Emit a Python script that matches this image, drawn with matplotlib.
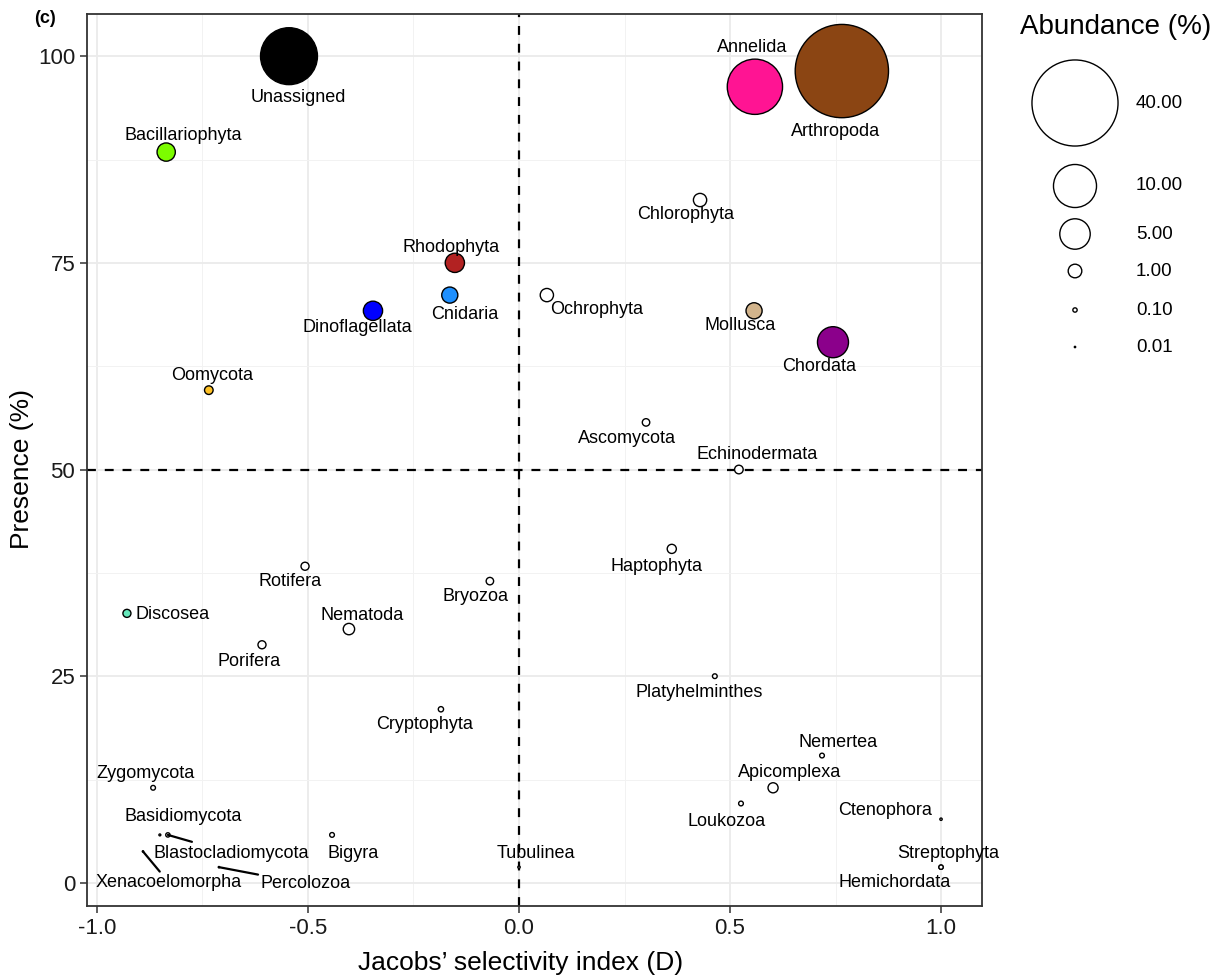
import matplotlib
matplotlib.use("Agg")
import matplotlib.pyplot as plt
from matplotlib.ticker import MultipleLocator

plt.rcParams['font.family'] = ['Liberation Sans', 'DejaVu Sans']

# data
taxa = ['Unassigned', 'Arthropoda', 'Annelida', 'Bacillariophyta', 'Chlorophyta',
        'Rhodophyta', 'Cnidaria', 'Dinoflagellata', 'Ochrophyta', 'Mollusca',
        'Chordata', 'Oomycota', 'Ascomycota', 'Echinodermata', 'Haptophyta',
        'Rotifera', 'Bryozoa', 'Discosea', 'Nematoda', 'Porifera',
        'Platyhelminthes', 'Cryptophyta', 'Nemertea', 'Zygomycota', 'Apicomplexa',
        'Loukozoa', 'Ctenophora', 'Basidiomycota', 'Blastocladiomycota', 'Bigyra',
        'Xenacoelomorpha', 'Percolozoa', 'Tubulinea', 'Streptophyta', 'Hemichordata']
jacobs_d = [-0.545, 0.765, 0.559, -0.836, 0.429,
            -0.152, -0.164, -0.346, 0.066, 0.557,
            0.744, -0.735, 0.301, 0.521, 0.362,
            -0.507, -0.069, -0.929, -0.403, -0.609,
            0.464, -0.185, 0.718, -0.867, 0.602,
            0.526, 1.0, -0.851, -0.832, -0.443,
            -0.891, -0.711, 0.0, 1.0, 1.0]
presence = [100.0, 98.2, 96.3, 88.4, 82.6,
            75.0, 71.1, 69.2, 71.1, 69.2,
            65.4, 59.6, 55.7, 50.0, 40.4,
            38.3, 36.5, 32.6, 30.7, 28.8,
            25.0, 21.0, 15.4, 11.5, 11.5,
            9.6, 7.7, 5.8, 5.8, 5.8,
            3.8, 1.9, 1.9, 1.9, 1.9]
abundance = [17.5, 47.0, 16.5, 1.8, 0.95,
             2.0, 1.4, 2.0, 0.95, 1.4,
             5.2, 0.4, 0.3, 0.4, 0.45,
             0.35, 0.3, 0.35, 0.7, 0.35,
             0.12, 0.15, 0.12, 0.12, 0.55,
             0.12, 0.03, 0.02, 0.1, 0.12,
             0.01, 0.01, 0.03, 0.1, 0.1]
colours = {'Unassigned': '#000000', 'Arthropoda': '#8B4513', 'Annelida': '#FF1493',
           'Bacillariophyta': '#7CFC00', 'Rhodophyta': '#B22222', 'Cnidaria': '#1E90FF',
           'Dinoflagellata': '#0000FF', 'Mollusca': '#D2B48C', 'Chordata': '#8B008B',
           'Oomycota': '#FFC125', 'Discosea': '#66E8BB'}

# label positions (data units) as placed by the repel step
label_x = [-0.524, 0.749, 0.552, -0.796, 0.396,
           -0.161, -0.128, -0.382, 0.185, 0.524,
           0.711, -0.727, 0.256, 0.564, 0.325,
           -0.543, -0.104, -0.820, -0.372, -0.640,
           0.427, -0.223, 0.756, -0.886, 0.642,
           0.491, 0.867, -0.796, -0.682, -0.393,
           -0.829, -0.505, 0.040, 1.017, 0.891]
label_y = [95.0, 90.9, 101.1, 90.4, 80.8,
           76.9, 68.7, 67.2, 69.3, 67.4,
           62.5, 61.4, 53.7, 51.8, 38.3,
           36.4, 34.6, 32.5, 32.4, 26.8,
           23.0, 19.1, 17.0, 13.2, 13.3,
           7.4, 8.8, 8.0, 3.6, 3.6,
           0.0, -0.1, 3.6, 3.6, 0.0]
with_segment = ['Blastocladiomycota', 'Xenacoelomorpha', 'Percolozoa']

legend_values = [40, 10, 5, 1, 0.1, 0.01]
legend_labels = ['40.00', '10.00', '5.00', '1.00', '0.10', '0.01']

SIZE = 96  # points^2 per 1 % abundance

fig = plt.figure(figsize=(12.25, 9.8), dpi=100)
ax = fig.add_axes([0.071, 0.0755, 0.7306, 0.9102])

ax.set_xlim(-1.0237, 1.097)
ax.set_ylim(-2.8, 105.1)
ax.xaxis.set_major_locator(MultipleLocator(0.5))
ax.xaxis.set_minor_locator(MultipleLocator(0.25))
ax.yaxis.set_major_locator(MultipleLocator(25))
ax.yaxis.set_minor_locator(MultipleLocator(12.5))
ax.grid(which='major', color='#EBEBEB', linewidth=1.3, zorder=0)
ax.grid(which='minor', color='#F2F2F2', linewidth=0.7, zorder=0)
ax.set_axisbelow(True)

ax.axvline(0, color='black', linestyle=(0, (4, 4)), linewidth=1.6, zorder=1)
ax.axhline(50, color='black', linestyle=(0, (4, 4)), linewidth=1.6, zorder=1)

fills = [colours.get(t, 'white') for t in taxa]
sizes = [SIZE * a for a in abundance]
ax.scatter(jacobs_d, presence, s=sizes, c=fills, edgecolors='black',
           linewidths=1.0, zorder=3)

for i, t in enumerate(taxa):
    if t in with_segment:
        ax.annotate(t, xy=(jacobs_d[i], presence[i]),
                    xytext=(label_x[i], label_y[i]),
                    ha='center', va='center', fontsize=13, zorder=4,
                    arrowprops=dict(arrowstyle='-', color='black', lw=1.6,
                                    shrinkA=0, shrinkB=0))
    else:
        ax.text(label_x[i], label_y[i], t, ha='center', va='center',
                fontsize=13, zorder=4)

for s in ax.spines.values():
    s.set_color('#333333')
    s.set_linewidth(1.3)
ax.tick_params(which='major', length=5, width=1.1, color='#333333',
               labelsize=16, labelcolor='#1a1a1a')
ax.tick_params(which='minor', length=0)
ax.set_xticks([-1.0, -0.5, 0.0, 0.5, 1.0])
ax.set_xticklabels(['-1.0', '-0.5', '0.0', '0.5', '1.0'])
ax.set_xlabel("Jacobs’ selectivity index (D)", fontsize=19)
ax.set_ylabel('Presence (%)', fontsize=19)
ax.xaxis.set_label_coords(0.484, -0.064)
ax.xaxis.label.set_va('center')
ax.yaxis.set_label_coords(-0.0726, 0.49)
ax.yaxis.label.set_va('center')

fig.text(0.037, 0.981, '(c)', fontsize=13, fontweight='bold',
         ha='center', va='center')

# size legend drawn in figure pixel space
lg = fig.add_axes([0, 0, 1, 1], facecolor='none')
lg.set_xlim(0, 1225)
lg.set_ylim(980, 0)
lg.axis('off')
lg.text(1020, 27, 'Abundance (%)', fontsize=20, ha='left', va='center')
leg_rows = [103, 186, 234, 271, 310, 347]
lg.scatter([1075] * len(legend_values), leg_rows,
           s=[SIZE * v for v in legend_values], facecolors='white',
           edgecolors='black', linewidths=1.0)
for yy, lab in zip(leg_rows, legend_labels):
    lg.text(1136, yy, lab, fontsize=13.5, ha='left', va='center')

fig.savefig('out.png', dpi=100)
